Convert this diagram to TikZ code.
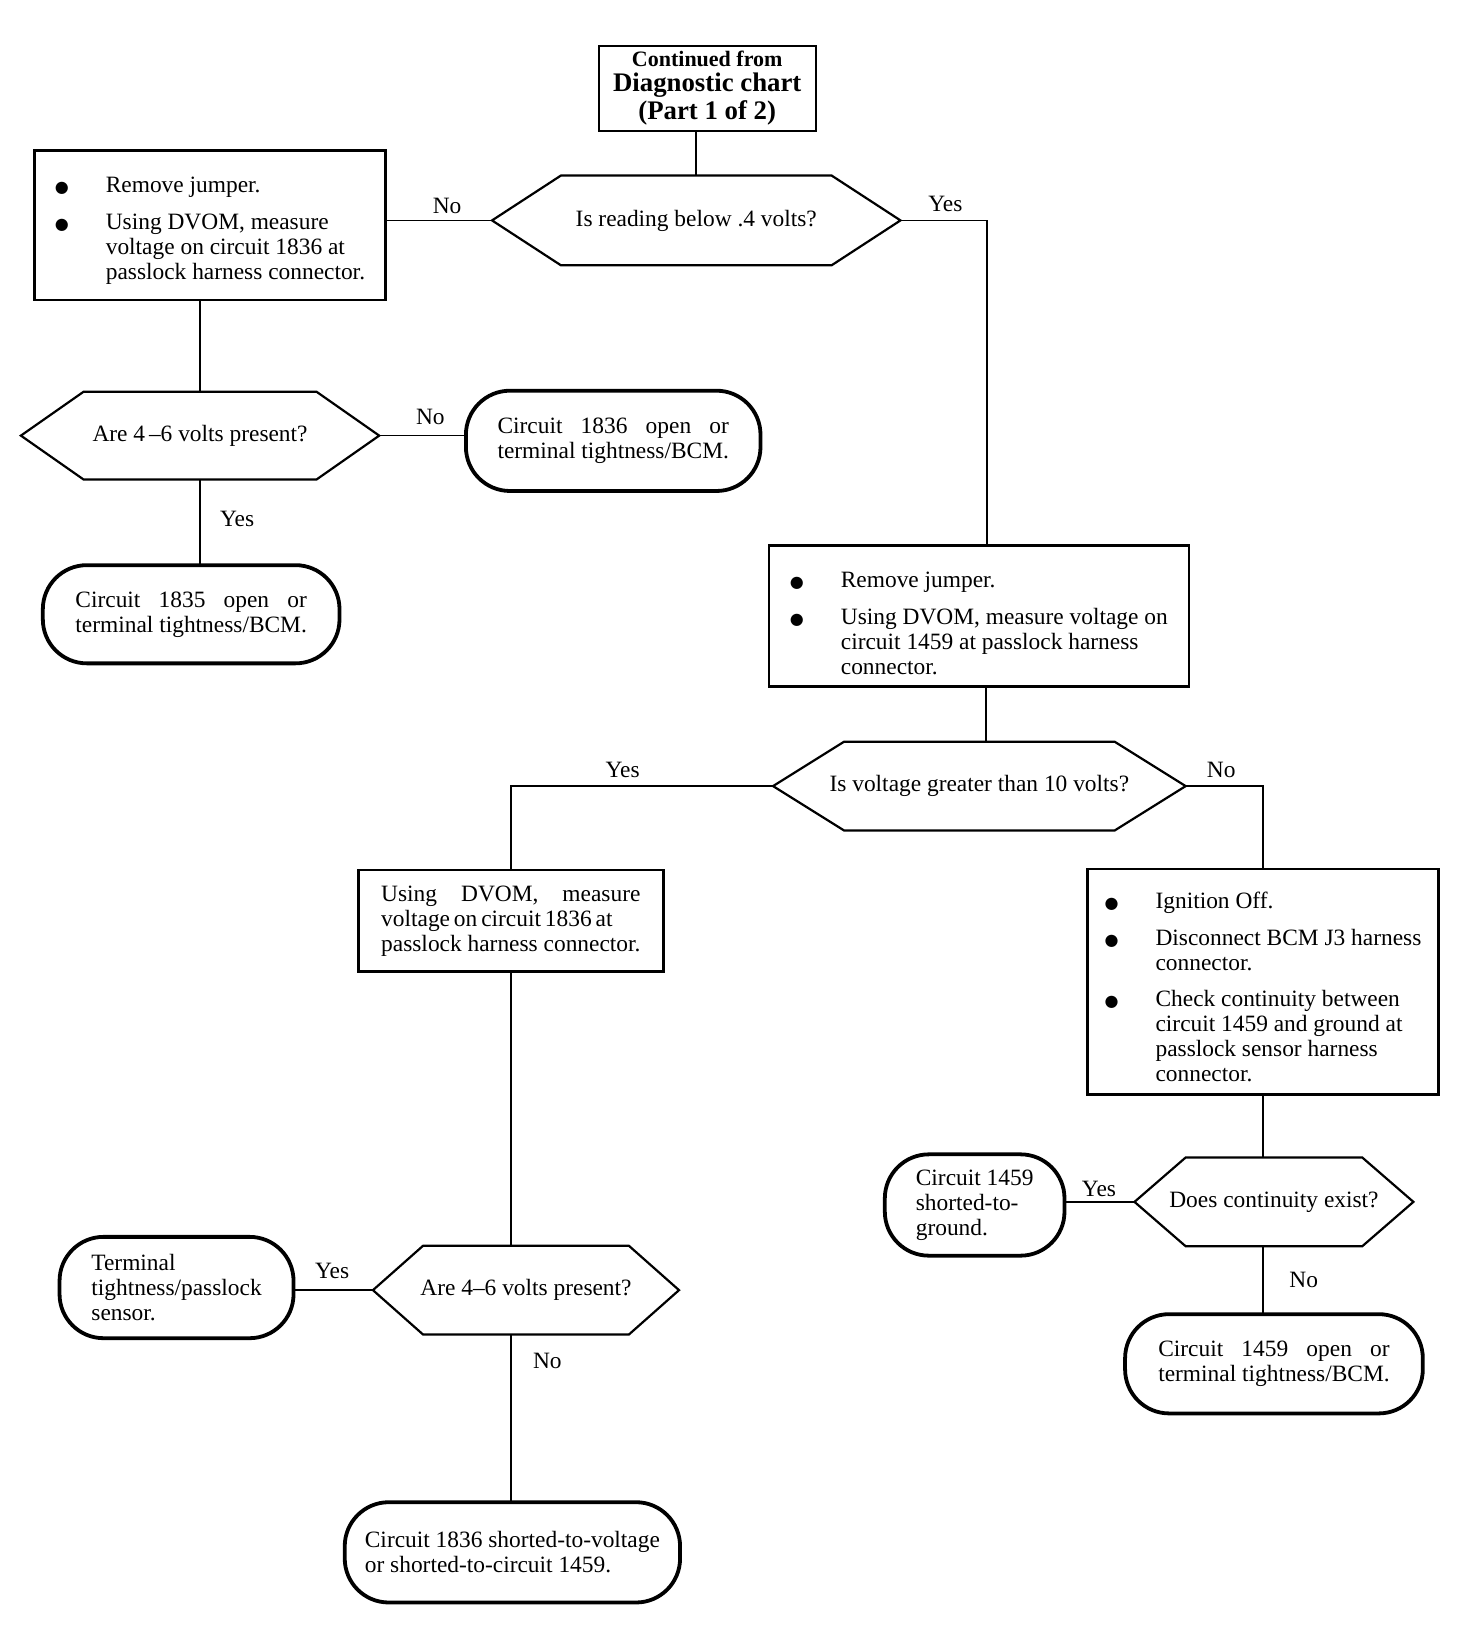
\documentclass[tikz,border=0pt]{standalone}
\usepackage{fontspec}
\setmainfont{Liberation Serif}
\newfontfamily\symfont{DejaVu Sans}
\usetikzlibrary{calc}
\def\unitpx{0.52235pt}
\newlength\jlen
\newcommand\jst[2]{\settowidth{\jlen}{#2}\makebox[\jlen][s]{#1}\\#2}
\newcommand\bul{{\symfont\fontsize{8}{12.5}\selectfont ●}}
\tikzset{
 base/.style={font=\fontsize{11.7}{12.5}\selectfont, inner sep=0pt, outer sep=0pt, align=left},
 sz/.style 2 args={minimum width=#1*\unitpx, minimum height=#2*\unitpx},
 procbox/.style={base, draw, line width=1.3pt},
 hexnode/.style={base, align=center},
 hexline/.style={line width=1.1pt, line join=miter},
 term/.style={base, draw, line width=1.9pt, rounded corners=22pt},
 conn/.style={line width=0.8pt},
 lab/.style={font=\fontsize{11.7}{12.5}\selectfont, inner sep=0pt},
}
\begin{document}
\begin{tikzpicture}[x=0.52235pt, y=-0.52235pt]
\fill[white] (0,0) rectangle (1409,1568);
% process boxes
\node[procbox, line width=1pt, sz={208}{81}, align=center, font=\fontsize{13.4}{14}\bfseries] (top) at (677,84.5)
 {{\fontsize{11}{14}\selectfont Continued from}\\[-1.5pt] Diagnostic chart\\ (Part 1 of 2)};
\node[procbox, sz={336}{143}] (b1) at (201,215.5)
 {\begin{tabular}{@{}l@{\hspace{18.5pt}}l@{}}
 \rule{0pt}{14.5pt}\bul & Remove jumper.\\[5.8pt]
 \bul & Using DVOM, measure\\
 & voltage on circuit 1836 at\\
 & passlock harness connector.
 \end{tabular}};
\node[procbox, sz={402}{135}] (b2) at (937,589.5)
 {\begin{tabular}{@{}l@{\hspace{18.5pt}}l@{}}
 \rule{0pt}{19pt}\bul & Remove jumper.\\[5.8pt]
 \bul & Using DVOM, measure voltage on\\
 & circuit 1459 at passlock harness\\
 & connector.
 \end{tabular}};
\node[procbox, sz={292}{97}] (b3) at (489,881.5)
 {\settowidth{\jlen}{passlock harness connector.}%
 \makebox[\jlen][s]{Using DVOM, measure}\\
 \makebox[\jlen][s]{voltage on circuit 1836 at}\\
 passlock harness connector.};
\node[procbox, sz={336}{216}] (b4) at (1209,940)
 {\begin{tabular}{@{}l@{\hspace{18.5pt}}l@{}}
 \rule{0pt}{17pt}\bul & Ignition Off.\\[5.8pt]
 \bul & Disconnect BCM J3 harness\\
 & connector.\\[5.8pt]
 \bul & Check continuity between\\
 & circuit 1459 and ground at\\
 & passlock sensor harness\\
 & connector.
 \end{tabular}};
% decision nodes
\node[hexnode, sz={391}{86}] (h1) at (666.5,211) {Is reading below .4 volts?};
\node[hexnode, sz={343}{84}] (h2) at (191.5,417) {Are 4\,–6 volts present?};
\node[hexnode, sz={395}{85}] (h3) at (937.5,752.5) {Is voltage greater than 10 volts?};
\node[hexnode, sz={293}{85}] (h4) at (503.5,1235) {Are 4–6 volts present?};
\node[hexnode, sz={267}{85}] (h5) at (1219.5,1150.5) {Does continuity exist?};
\foreach \n/\o in {h1/66,h2/60,h3/68,h4/48,h5/49}
 \draw[hexline] (\n.west) -- ([xshift=\o*\unitpx]\n.north west) -- ([xshift=-\o*\unitpx]\n.north east)
 -- (\n.east) -- ([xshift=-\o*\unitpx]\n.south east) -- ([xshift=\o*\unitpx]\n.south west) -- cycle;
% terminals
\node[term, sz={282}{96}] (t1) at (587,422) {\jst{Circuit 1836 open or}{terminal tightness/BCM.}};
\node[term, sz={284}{94}] (t2) at (183,588) {\jst{Circuit 1835 open or}{terminal tightness/BCM.}};
\node[term, sz={224}{97}] (t3) at (169,1232.5) {Terminal\\ tightness/passlock\\ sensor.};
\node[term, sz={321}{96}] (t4) at (490.5,1486) {Circuit 1836 shorted-to-voltage\\ or shorted-to-circuit 1459.};
\node[term, sz={172}{97}] (t5) at (933,1153.5) {Circuit 1459\\ shorted-to-\\ ground.};
\node[term, sz={285}{95}] (t6) at (1219.5,1305.5) {\jst{Circuit 1459 open or}{terminal tightness/BCM.}};
% connectors
\coordinate (b2n) at ([xshift=8*\unitpx]b2.north);
\coordinate (b2s) at ([xshift=7*\unitpx]b2.south);
\draw[conn] (top.south -| h1.north) -- (h1.north);
\draw[conn] (h1.west) -- (h1.west -| b1.east);
\draw[conn] (b1.south -| h2.north) -- (h2.north);
\draw[conn] (h2.east) -- (h2.east -| t1.west);
\draw[conn] (h2.south) -- (h2.south |- t2.north);
\draw[conn] (h1.east) -| (b2n);
\draw[conn] (b2s) -- (b2s |- h3.north);
\draw[conn] (h3.west) -| (b3.north);
\draw[conn] (h3.east) -| (b4.north);
\draw[conn] (b3.south) -- (b3.south |- h4.north);
\draw[conn] (h4.west) -- (h4.west -| t3.east);
\draw[conn] (h4.south -| b3.south) -- (b3.south |- t4.north);
\draw[conn] (b4.south) -- (b4.south |- h5.north);
\draw[conn] (h5.west) -- (h5.west -| t5.east);
\draw[conn] (h5.south -| b4.south) -- (b4.south |- t6.north);
% labels
\node[lab] (l1) at (428,197) {No};
\node[lab] (l2) at (905,195) {Yes};
\node[lab] (l3) at (412,399) {No};
\node[lab] (l4) at (227,497) {Yes};
\node[lab] (l5) at (596,737) {Yes};
\node[lab] (l6) at (1169,737) {No};
\node[lab] (l7) at (318,1217) {Yes};
\node[lab] (l8) at (524,1303) {No};
\node[lab] (l9) at (1052,1138) {Yes};
\node[lab] (l10) at (1248,1225) {No};
\end{tikzpicture}
\end{document}
